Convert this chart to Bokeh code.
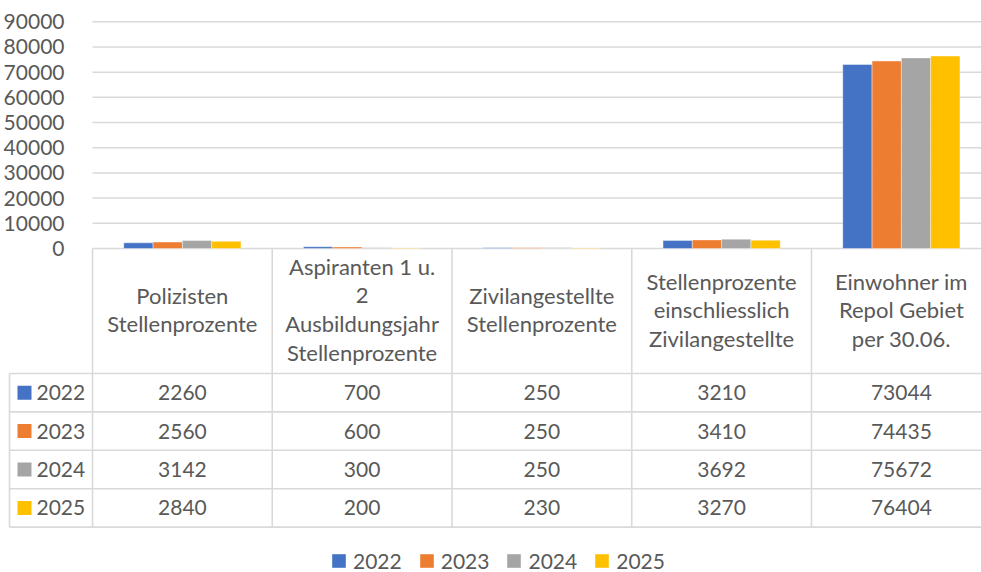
from bokeh.plotting import figure
from bokeh.models import Range1d, FixedTicker, ColumnDataSource, Legend, LegendItem, LinearAxis
from bokeh.core.properties import value
from bokeh.transform import dodge
from bokeh.embed import file_html
from bokeh.resources import INLINE

# ---------------- data ----------------
categories = [
    "Polizisten\nStellenprozente",
    "Aspiranten 1 u.\n2\nAusbildungsjahr\nStellenprozente",
    "Zivilangestellte\nStellenprozente",
    "Stellenprozente\neinschliesslich\nZivilangestellte",
    "Einwohner im\nRepol Gebiet\nper 30.06.",
]
years = ["2022", "2023", "2024", "2025"]
v2022 = [2260, 700, 250, 3210, 73044]
v2023 = [2560, 600, 250, 3410, 74435]
v2024 = [3142, 300, 250, 3692, 75672]
v2025 = [2840, 200, 230, 3270, 76404]
y_ticks = [0, 10000, 20000, 30000, 40000, 50000, 60000, 70000, 80000, 90000]
colors = ["#4472C4", "#ED7D31", "#A5A5A5", "#FFC000"]

series = [v2022, v2023, v2024, v2025]

# ---------------- layout constants (pixels) ----------------
FONT = "Lato"
TXT = "#595959"
GRID = "#d9d9d9"
W, H = 981, 572
FRAME_H = H
CAT_PX = 179.75                  # width of one category column
X0_PX = 92                       # canvas x of category axis start
Y0_PX = 248                      # canvas y of value 0 / table top
TOP_PX = 21.3                    # canvas y of 90000
ROW_PX = 38.4                    # data-table row height
HDR_PX = 125                     # header row height
ROWLBL_PX = 9                    # canvas x of table left border

val_per_px = 90000 / (Y0_PX - TOP_PX)
x_start = -X0_PX / CAT_PX
x_end = (W - X0_PX) / CAT_PX
hdr_bottom_px = Y0_PX + HDR_PX
HDR = HDR_PX / ROW_PX

BAR_W = 0.163

n = len(categories)
nr = len(years)
xc = [i + 0.5 for i in range(n)]

p = figure(width=W, height=H,
           x_range=Range1d(x_start, x_end),
           y_range=Range1d(-(FRAME_H - Y0_PX) * val_per_px, Y0_PX * val_per_px),
           toolbar_location=None, output_backend="svg",
           min_border_left=0, min_border_right=0, min_border_top=0, min_border_bottom=0,
           x_axis_location=None, y_axis_location=None)
p.extra_y_ranges = {"tbl": Range1d(-(FRAME_H - hdr_bottom_px) / ROW_PX, hdr_bottom_px / ROW_PX)}
p.grid.visible = False
p.outline_line_color = None

# ---- gridlines of the value axis ----
p.segment(x0=[0] * len(y_ticks), y0=y_ticks, x1=[n] * len(y_ticks), y1=y_ticks,
          line_color=GRID, line_width=1.5)

# ---- value axis ----
ax = LinearAxis(fixed_location=0, ticker=FixedTicker(ticks=y_ticks))
ax.axis_line_color = None
ax.major_tick_line_color = None
ax.minor_tick_line_color = None
ax.major_label_text_font = FONT
ax.major_label_text_font_size = "21px"
ax.major_label_text_color = TXT
ax.major_label_standoff = 22
p.add_layout(ax, "left")

# ---- bars ----
src = ColumnDataSource(dict(x=xc, **{yr: vals for yr, vals in zip(years, series)}))
for k, (yr, col) in enumerate(zip(years, colors)):
    p.vbar(x=dodge("x", (k - (nr - 1) / 2) * BAR_W), top=yr, width=BAR_W, source=src,
           fill_color=col, line_color="white", line_alpha=0.5, line_width=0.8)

# ---- data table grid ----
row_left = (ROWLBL_PX - X0_PX) / CAT_PX
hy = [-r for r in range(nr + 1)]
p.segment(x0=[row_left] * len(hy), y0=hy, x1=[n] * len(hy), y1=hy,
          line_color=GRID, line_width=1.6, y_range_name="tbl")
vx = list(range(n + 1))
p.segment(x0=vx, y0=[HDR] * len(vx), x1=vx, y1=[-nr] * len(vx),
          line_color=GRID, line_width=1.6, y_range_name="tbl")
p.segment(x0=[row_left], y0=[0], x1=[row_left], y1=[-nr],
          line_color=GRID, line_width=1.6, y_range_name="tbl")

# ---- header texts (one entry per line) ----
LINE = 28.5 / ROW_PX
HDR_MID = HDR / 2 + 1.5 / ROW_PX
hx, hyy, ht = [], [], []
for i, cat in enumerate(categories):
    lines = cat.split("\n")
    k = len(lines)
    for j, ln in enumerate(lines):
        hx.append(xc[i])
        hyy.append(HDR_MID + ((k - 1) / 2 - j) * LINE)
        ht.append(ln)
p.text(x=hx, y=hyy, text=ht, text_align="center", text_baseline="middle",
       text_font=value(FONT), text_font_size="22px", text_color=TXT, y_range_name="tbl")

# ---- table rows ----
sq_x = (24 - X0_PX) / CAT_PX
lbl_x = (36 - X0_PX) / CAT_PX
items = []
for r, (yr, col, vals) in enumerate(zip(years, colors, series)):
    yy = -(r + 0.5)
    p.text(x=xc, y=[yy] * n, text=[str(v) for v in vals], text_align="center",
           text_baseline="middle", text_font=value(FONT), text_font_size="21px",
           text_color=TXT, y_range_name="tbl")
    rr = p.rect(x=[sq_x], y=[yy], width=14, height=14, width_units="screen",
                height_units="screen", fill_color=col, line_color=None, y_range_name="tbl")
    p.text(x=[lbl_x], y=[yy], text=[yr], text_align="left", text_baseline="middle",
           text_font=value(FONT), text_font_size="21px", text_color=TXT, y_range_name="tbl")
    items.append(LegendItem(label=yr, renderers=[rr]))

legend = Legend(items=items, orientation="horizontal", location=(330, -1),
                label_text_font=FONT, label_text_font_size="21px", label_text_color=TXT,
                glyph_width=17, glyph_height=17, label_standoff=6, spacing=16,
                border_line_color=None, background_fill_alpha=0, padding=0, margin=0)
p.add_layout(legend, "center")

open("out.html", "w").write(file_html(p, INLINE))
